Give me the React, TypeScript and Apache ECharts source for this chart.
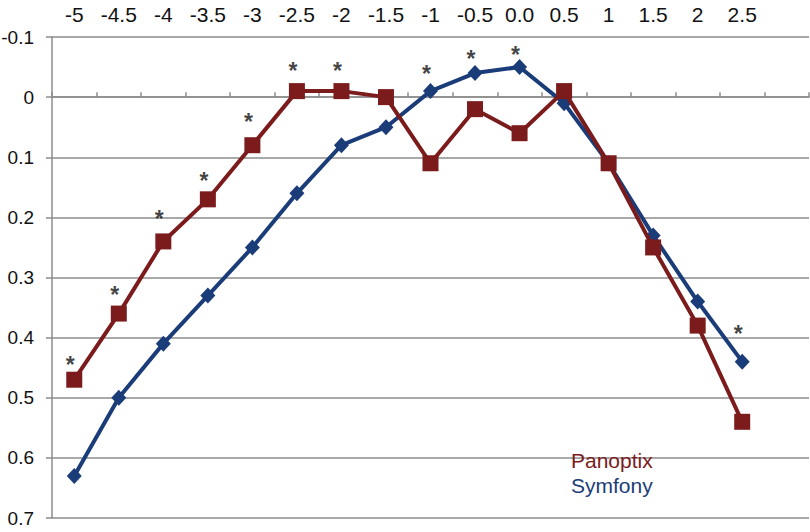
import React, { useEffect, useRef } from "react";
import * as echarts from "echarts";

const categories = ["-5", "-4.5", "-4", "-3.5", "-3", "-2.5", "-2", "-1.5", "-1", "-0.5", "0.0", "0.5", "1", "1.5", "2", "2.5", ""];
const panoptix = [0.47, 0.36, 0.24, 0.17, 0.08, -0.01, -0.01, 0.0, 0.11, 0.02, 0.06, -0.01, 0.11, 0.25, 0.38, 0.54];
const symfony = [0.63, 0.5, 0.41, 0.33, 0.25, 0.16, 0.08, 0.05, -0.01, -0.04, -0.05, 0.01, 0.11, 0.23, 0.34, 0.44];
const starCategories = ["-5", "-4.5", "-4", "-3.5", "-3", "-2.5", "-2", "-1", "-0.5", "0.0", "2.5"];
const starValues = [0.436, 0.319, 0.193, 0.13, 0.031, -0.053, -0.053, -0.048, -0.073, -0.08, 0.384];

const RED = "#7B1B1C";
const BLUE = "#1A3C78";
const GRID = "#8C8C8C";
const FONT = "Liberation Sans, Arial, sans-serif";

export default function App() {
  const ref = useRef<HTMLDivElement>(null);
  useEffect(() => {
    if (!ref.current) return;
    const chart = echarts.init(ref.current, undefined, { renderer: "svg" });
    chart.setOption({
      animation: false,
      backgroundColor: "#ffffff",
      textStyle: { fontFamily: FONT },
      grid: { left: 52, right: 1, top: 37, bottom: 14, containLabel: false, outerBoundsMode: "none" },
      legend: {
        orient: "vertical",
        left: 561,
        top: 445,
        icon: "none",
        itemWidth: 0,
        itemHeight: 0,
        itemGap: 4,
        selectedMode: false,
        textStyle: { fontSize: 21, fontFamily: FONT },
        data: [
          { name: "Panoptix", textStyle: { color: RED } },
          { name: "Symfony", textStyle: { color: BLUE } },
        ],
      },
      xAxis: [
        {
          type: "category",
          data: categories,
          position: "top",
          boundaryGap: true,
          axisLine: { show: false, onZero: false },
          axisTick: { show: false },
          axisLabel: { fontSize: 21, color: "#111", margin: 12, interval: 0, fontFamily: FONT },
          splitLine: { show: false },
        },
        {
          type: "category",
          data: categories,
          position: "top",
          boundaryGap: true,
          axisLine: { show: true, onZero: true, lineStyle: { color: GRID, width: 1.5 } },
          axisTick: { show: true, length: 5, interval: 0, lineStyle: { color: GRID, width: 1.5 } },
          axisLabel: { show: false },
          splitLine: { show: false },
        },
      ],
      yAxis: {
        type: "value",
        inverse: true,
        min: -0.1,
        max: 0.7,
        interval: 0.1,
        axisLine: { show: true, lineStyle: { color: GRID, width: 1.5 } },
        axisTick: { show: true, length: 6, lineStyle: { color: GRID, width: 1.5 } },
        axisLabel: {
          fontSize: 19,
          color: "#111",
          margin: 18,
          fontFamily: FONT,
          formatter: (v: number) => String(Math.round(v * 10) / 10),
        },
        splitLine: { show: true, lineStyle: { color: GRID, width: 1.5 } },
      },
      series: [
        {
          name: "Symfony",
          type: "line",
          xAxisIndex: 0,
          data: symfony,
          symbol: "diamond",
          symbolSize: [15, 16],
          lineStyle: { color: BLUE, width: 4 },
          itemStyle: { color: BLUE },
          z: 3,
        },
        {
          name: "Panoptix",
          type: "line",
          xAxisIndex: 0,
          data: panoptix,
          symbol: "rect",
          symbolSize: 16,
          lineStyle: { color: RED, width: 4 },
          itemStyle: { color: RED },
          z: 4,
        },
        {
          name: "stars",
          type: "scatter",
          xAxisIndex: 0,
          data: starCategories.map((c, i) => [c, starValues[i]]),
          symbol: "circle",
          symbolSize: 2,
          itemStyle: { color: "rgba(0,0,0,0)" },
          label: {
            show: true,
            position: "inside",
            formatter: "*",
            fontSize: 23,
            fontWeight: "bold",
            color: "#111",
            offset: [-4, 6],
            fontFamily: FONT,
          },
          z: 5,
        },
      ],
    });
    return () => chart.dispose();
  }, []);
  return <div ref={ref} style={{ position: "fixed", left: 0, top: 0, width: 810, height: 532 }} />;
}
